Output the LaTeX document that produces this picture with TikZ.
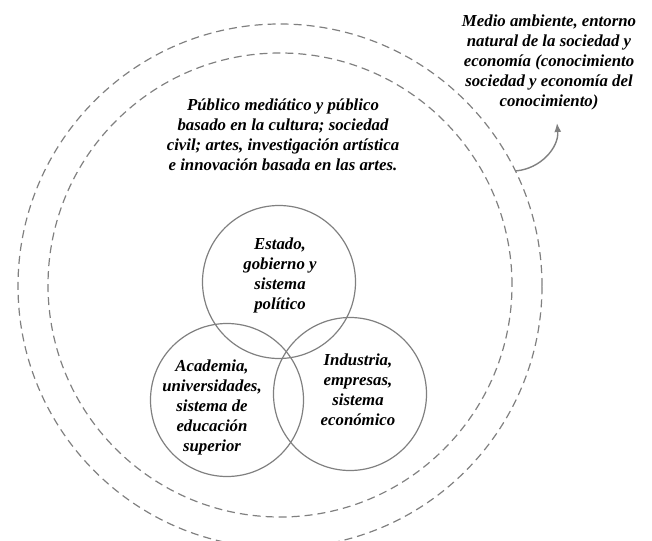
\documentclass[tikz,border=0pt]{standalone}
\usepackage{fontspec}
\setmainfont{Liberation Serif}
\usetikzlibrary{arrows.meta}

\begin{document}
\begin{tikzpicture}[x=1pt,y=-1pt,line width=1.2pt]
    \tikzstyle{sphere}=[circle,draw=black!50,inner sep=0pt,dash pattern=on 8pt off 5pt]
    \tikzstyle{helix}=[circle,draw=black!50,minimum size=153pt,inner sep=0pt]
    \tikzstyle{annot}=[align=center,font=\fontsize{16.8}{20}\selectfont\bfseries\itshape,inner sep=0pt]
    \useasboundingbox (0,0) rectangle (652,540);

    % Draw the two dashed spheres
    \node[sphere, minimum size=524pt] (env) at (280,286) {};
    \node[sphere, minimum size=464pt] (pub) at (280,285) {};

    % Draw the three helices
    \node[helix] (state) at (279,282) {};
    \node[helix] (acad) at (227,400) {};
    \node[helix] (ind) at (350,394) {};

    % Annotate the helices
    \node[annot] (state-l) at (280,275) {Estado,\\gobierno y\\sistema\\político};
    \node[annot] (acad-l) at (212,407) {Academia,\\universidades,\\sistema de\\educación\\superior};
    \node[annot] (ind-l) at (358,390) {Industria,\\empresas,\\sistema\\económico};

    % Annotate the spheres
    \node[annot] (pub-l) at (283,135) {Público mediático y público\\basado en la cultura; sociedad\\civil; artes, investigación artística\\e innovación basada en las artes.};
    \node[annot] (env-l) at (549,62) {Medio ambiente, entorno\\natural de la sociedad y\\economía (conocimiento\\sociedad y economía del\\conocimiento)};

    \coordinate (env-tip) at (557,123);
    \draw[draw=black!50,line width=1.4pt,-{Latex[length=9pt,width=7pt]}] (env.26.8) to[out=5,in=-85] (env-tip);
\end{tikzpicture}
\end{document}
